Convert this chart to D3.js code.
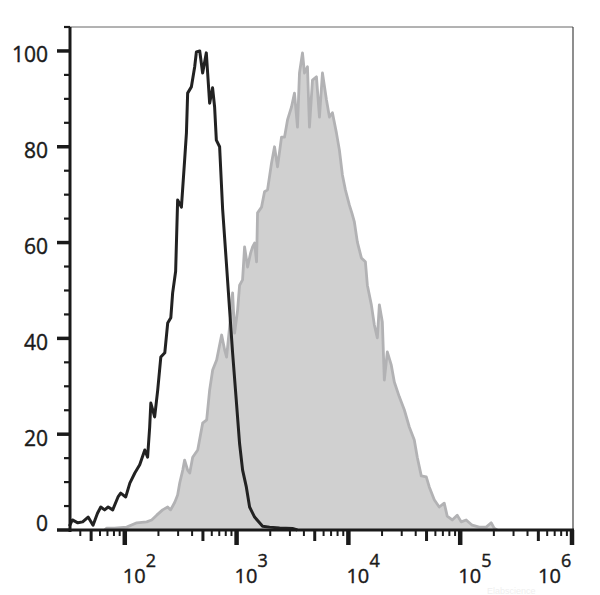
<!DOCTYPE html>
<html><head><meta charset="utf-8">
<script src="https://cdn.jsdelivr.net/npm/d3@7"></script>
<style>body{margin:0;background:#fff}svg{display:block}</style>
</head><body>
<svg id="c" width="600" height="595"></svg>
<script>
// stained sample (grey filled histogram): fluorescence intensity vs % of max
const grayX = [66,69,81,104,128,157,174,193,218,242,257,280,297,310,330,343,365,381,405,449,497,540,574,611,663,705,735,782,814,866,921,960,1021,1064,1131,1179,1254,1334,1390,1448,1509,1540,1672,1778,1891,2054,2184,2323,2523,2683,2854,3098,3295,3505,3652,3885,4047,4305,4486,4771,5180,5510,5861,6362,6768,7197,7815,8310,8840,9401,10210,10860,11310,12030,13070,14190,14780,16050,17070,18150,18920,20120,20960,22290,24200,25750,28540,31620,35050,38850,41320,44860,49720,52890,58610,64940,71970,76550,84830,94010,102100,113100,128000,147800,170700,189200,201200,214000];
const grayY = [0,0.4,0.4,0.6,1.5,1.7,2.1,3.1,4.2,4.8,4.2,5.8,7.3,9.8,12.5,14.6,12.5,11.9,15.2,16.7,22.3,23.0,29.2,33.4,35.5,38.6,40.7,37.6,36.1,42.4,49.5,41.1,45.9,51.1,52.2,59.1,54.9,57.8,59.1,59.9,56.0,66.2,67.4,70.6,71.0,76.6,80.0,75.8,82.0,82.0,85.6,88.3,91.2,84.1,95.4,99.6,95.4,96.7,84.1,93.9,94.6,86.2,95.4,89.8,86.2,87.1,82.9,79.3,74.1,71.0,67.8,65.8,64.3,60.1,56.8,56.0,51.1,47.0,42.8,40.1,47.0,43.4,31.3,37.2,34.4,30.9,27.8,25.1,21.5,18.8,15.2,11.3,11.1,9.0,6.3,4.8,5.6,2.9,2.1,3.1,1.7,2.1,1.0,0.6,0.6,1.5,0.4,0];
// control (black outline histogram)
const blackX = [32,34,38,42,47,52,57,61,66,71,78,87,92,102,111,123,136,151,160,167,171,185,197,210,228,242,258,268,285,297,321,343,356,365,394,422,437,468,497,536,551,574,610,636,659,705,750,809,866,921,994,1064,1132,1222,1307,1449,1708,1971,2422,3162,3500];
const blackY = [0.8,2.1,1.5,1.7,2.7,1.0,3.5,4.8,4.2,4.8,4.2,6.9,7.7,6.9,9.8,11.9,13.6,16.7,15.2,21.5,26.5,23.6,29.2,36.1,37.0,43.2,44.3,49.5,54,68.9,67.4,77.2,82.9,91.2,92.5,96.7,99.8,100,95.4,99.6,95.4,89.1,92.3,88.3,81.4,80,67,56,46,37,27,18,12.5,9,4.8,2.7,0.8,0.6,0.4,0.3,0];
// axis labels
const yTickLabels = [0,20,40,60,80,100];
const xExponents = [2,3,4,5,6];

const svg = d3.select("#c");
const L = 70, R = 572, T = 27, B = 530;
const x = d3.scaleLog().domain([Math.pow(10,1.51), 1e6]).range([L, R]);
const y = d3.scaleLinear().domain([0,105]).range([B, T]);
const ink = "#1a1a1a";
const font = "'Open Sans', 'Liberation Sans', sans-serif";

const gray = grayX.map((v,i)=>[v,grayY[i]]);
const black = blackX.map((v,i)=>[v,blackY[i]]);

svg.append("path").datum(gray)
  .attr("d", d3.area().x(d=>x(d[0])).y0(y(0)).y1(d=>y(d[1])))
  .attr("fill","#d0d0d0");
svg.append("path").datum(gray)
  .attr("d", d3.line().x(d=>x(d[0])).y(d=>y(d[1])))
  .attr("fill","none").attr("stroke","#b2b2b4").attr("stroke-width",2.8).attr("stroke-linejoin","round");
svg.append("path").datum(black)
  .attr("d", d3.line().x(d=>x(d[0])).y(d=>y(d[1])))
  .attr("fill","none").attr("stroke","#222").attr("stroke-width",3).attr("stroke-linejoin","round");

// frame
svg.append("line").attr("x1",L).attr("x2",R+1).attr("y1",T).attr("y2",T).attr("stroke","#666").attr("stroke-width",1);
svg.append("line").attr("x1",R+1).attr("x2",R+1).attr("y1",T).attr("y2",B).attr("stroke","#444").attr("stroke-width",1.2);
svg.append("line").attr("x1",L).attr("x2",L).attr("y1",T).attr("y2",B+2).attr("stroke",ink).attr("stroke-width",3);
svg.append("line").attr("x1",L).attr("x2",R+2).attr("y1",B).attr("y2",B).attr("stroke",ink).attr("stroke-width",3);

// y ticks
const yt = d3.range(0,106,5);
svg.selectAll(".yt").data(yt).enter().append("line")
  .attr("x1", d=> d%20===0 ? L-13 : L-6).attr("x2", L)
  .attr("y1", d=>y(d)).attr("y2", d=>y(d))
  .attr("stroke", ink).attr("stroke-width", d=> d%20===0 ? 3.5 : 2.2);
svg.selectAll(".yl").data(yTickLabels).enter().append("text")
  .attr("x", 48).attr("y", d=> d===0 ? y(d)+1 : y(d)+11.5)
  .attr("text-anchor","end")
  .attr("font-family",font).attr("font-size",21)
  .attr("fill",ink).attr("stroke",ink).attr("stroke-width",0.4).text(d=>d);

// x ticks
const mant = d => Math.round(d/Math.pow(10,Math.floor(Math.log10(d)+1e-9)));
const xt = x.ticks().filter(v => v >= x.domain()[0] && v <= 1e6);
svg.selectAll(".xt").data(xt).enter().append("line")
  .attr("x1", d=>x(d)).attr("x2", d=>x(d))
  .attr("y1", B)
  .attr("y2", d=> mant(d)===1 ? B+15 : (mant(d)===5 ? B+11 : B+6))
  .attr("stroke", ink)
  .attr("stroke-width", d=> mant(d)===1 ? 4.5 : (mant(d)===5 ? 3 : 2));

const xl = svg.selectAll(".xl").data(xExponents).enter().append("g")
  .attr("transform", d=>`translate(${x(Math.pow(10,d)) - (d===6 ? 34 : 2)},0)`);
xl.append("text").attr("x",0).attr("y",583)
  .attr("font-family",font).attr("font-size",20)
  .attr("fill",ink).attr("stroke",ink).attr("stroke-width",0.4).text("10");
xl.append("text").attr("x",23).attr("y",567)
  .attr("font-family",font).attr("font-size",18)
  .attr("fill",ink).attr("stroke",ink).attr("stroke-width",0.4).text(d=>d);

// faint watermark
svg.append("text").attr("x",487).attr("y",594)
  .attr("font-family","'Liberation Sans', sans-serif").attr("font-size",9)
  .attr("fill","#efefef").text("Elabscience");
</script>
</body></html>
